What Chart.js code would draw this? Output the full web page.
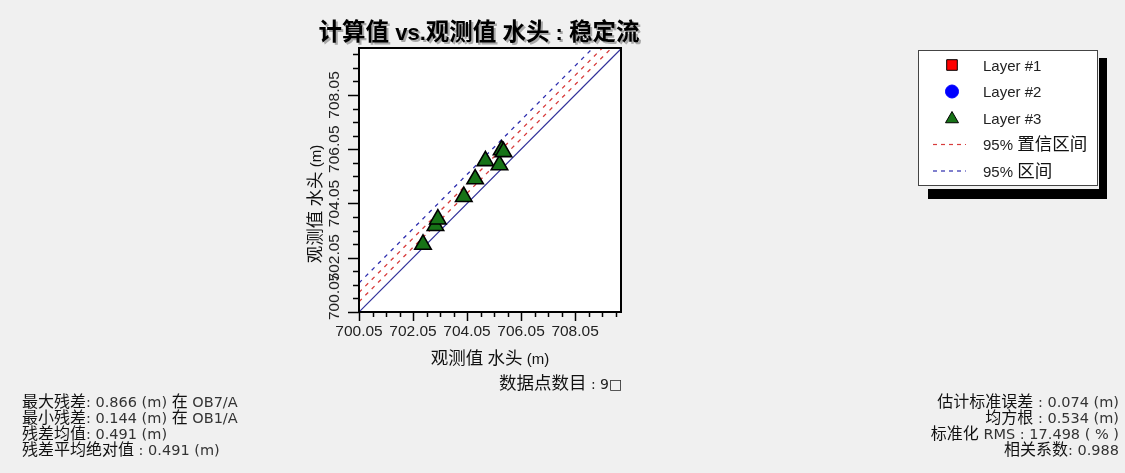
<!DOCTYPE html>
<html><head><meta charset="utf-8">
<script src="https://cdn.jsdelivr.net/npm/chart.js@4"></script>
<style>html,body{margin:0;padding:0;background:#f0f0f0;overflow:hidden}canvas{display:block}</style>
</head><body>
<canvas id="c" width="1125" height="473"></canvas>
<script>
// ---------- data ----------
const chartTitle = '计算值 vs.观测值 水头 : 稳定流';
const xAxisTitle = '观测值 水头 (m)';
const yAxisTitle = '观测值 水头 (m)';
const axisMin = 700.05;
const xAxisMax = 709.75;
const yAxisMax = 709.78;
const majorTicks = [700.05, 702.05, 704.05, 706.05, 708.05];
const minorStep = 0.5;
const layer1Observed = [];
const layer1Computed = [];
const layer2Observed = [];
const layer2Computed = [];
const layer3Observed = [702.42, 702.88, 702.97, 703.93, 704.35, 704.73, 705.25, 705.33, 705.40];
const layer3Computed = [702.54, 703.23, 703.47, 704.30, 704.95, 705.62, 705.47, 706.02, 705.95];
const identityLine = [[700.05, 700.05], [709.78, 709.78]];
const confLowerLine = [[700.05, 700.43], [709.40, 709.78]];
const confUpperLine = [[700.05, 700.77], [709.06, 709.78]];
const predUpperLine = [[700.05, 701.12], [708.71, 709.78]];
const legendLabels = ['Layer #1', 'Layer #2', 'Layer #3', '95% 置信区间', '95% 区间'];
const pointCountText = '数据点数目 : 9□';
const leftStats = ['最大残差: 0.866 (m) 在 OB7/A', '最小残差: 0.144 (m) 在 OB1/A', '残差均值: 0.491 (m)', '残差平均绝对值 : 0.491 (m)'];
const rightStats = ['估计标准误差 : 0.074 (m)', '均方根 : 0.534 (m)', '标准化 RMS : 17.498 ( % )', '相关系数: 0.988'];

// ---------- helpers ----------
const toXY = (xs, ys) => xs.map((x, i) => ({x: x, y: ys[i]}));
const pairs = arr => arr.map(p => ({x: p[0], y: p[1]}));
const CJK = /[\u2E80-\u9FFF\uFF00-\uFFEF]/;
function runs(text) {
  const out = []; let cur = '', curC = null;
  for (const ch of text) {
    const c = CJK.test(ch);
    if (curC === null || c === curC) { cur += ch; curC = c; }
    else { out.push([cur, curC]); cur = ch; curC = c; }
  }
  if (cur) out.push([cur, curC]);
  return out;
}
// y is the visual centre line; drawn on a shared alphabetic baseline
function drawMixed(ctx, text, x, y, o) {
  const rs = runs(text);
  let total = 0;
  const ws = rs.map(([t, c]) => { ctx.font = c ? o.cjk : o.lat; const w = ctx.measureText(t).width; total += w; return w; });
  let sx = o.align === 'right' ? x - total : o.align === 'center' ? x - total / 2 : x;
  const base = y + 0.37 * o.size;
  ctx.textBaseline = 'alphabetic'; ctx.textAlign = 'left';
  rs.forEach(([t, c], i) => {
    ctx.font = c ? o.cjk : o.lat;
    ctx.fillStyle = c ? (o.color || '#000') : (o.latColor || o.color || '#000');
    ctx.fillText(t, sx, base);
    sx += ws[i];
  });
  return total;
}

const RED = '#d83c3c', BLUE_D = '#2e2eae', NAVY = '#30309a', GREEN = '#177317';

const decor = {
  id: 'decor',
  beforeDraw(chart) {
    const ctx = chart.ctx, a = chart.chartArea;
    ctx.save();
    ctx.fillStyle = '#f0f0f0';
    ctx.fillRect(0, 0, chart.width, chart.height);
    ctx.fillStyle = '#ffffff';
    ctx.fillRect(a.left, a.top, a.right - a.left, a.bottom - a.top);
    ctx.restore();
  },
  afterDraw(chart) {
    const ctx = chart.ctx, a = chart.chartArea;
    const xs = chart.scales.x, ys = chart.scales.y;
    ctx.save();
    // frame
    ctx.strokeStyle = '#000'; ctx.lineWidth = 2;
    ctx.strokeRect(a.left, a.top, a.right - a.left, a.bottom - a.top);
    // ticks
    ctx.lineWidth = 1.5;
    const isMajor = v => majorTicks.some(m => Math.abs(m - v) < 1e-6);
    for (let v = axisMin; v <= xAxisMax + 1e-9; v += minorStep) {
      const vv = Math.round(v * 100) / 100;
      const px = Math.round(xs.getPixelForValue(vv)) + 0.5;
      const len = isMajor(vv) ? 9 : 5;
      ctx.beginPath(); ctx.moveTo(px, a.bottom); ctx.lineTo(px, a.bottom + len); ctx.stroke();
    }
    for (let v = axisMin; v <= yAxisMax + 1e-9; v += minorStep) {
      const vv = Math.round(v * 100) / 100;
      const py = Math.round(ys.getPixelForValue(vv)) + 0.5;
      const len = isMajor(vv) ? 11 : 6;
      ctx.beginPath(); ctx.moveTo(a.left, py); ctx.lineTo(a.left - len, py); ctx.stroke();
    }
    // x tick labels
    ctx.fillStyle = '#222'; ctx.font = "15.5px 'Liberation Sans', Arial, sans-serif";
    ctx.textAlign = 'center'; ctx.textBaseline = 'middle';
    majorTicks.forEach(v => ctx.fillText(v.toFixed(2), xs.getPixelForValue(v), 332));
    // y tick labels (rotated)
    majorTicks.forEach(v => {
      const lab = v.toFixed(2);
      const w = ctx.measureText(lab).width;
      let py = ys.getPixelForValue(v);
      py = Math.min(py, a.bottom + 8 - w / 2);
      ctx.save(); ctx.translate(335, py); ctx.rotate(-Math.PI / 2);
      ctx.fillText(lab, 0, 0); ctx.restore();
    });
    // axis titles
    const axOpt = {cjk: "17.5px 'Noto Sans CJK SC'", lat: "15px 'Liberation Sans', Arial", size: 17.5, align: 'center', color: '#111'};
    drawMixed(ctx, xAxisTitle, 490, 358, axOpt);
    ctx.save(); ctx.translate(315, 204); ctx.rotate(-Math.PI / 2);
    drawMixed(ctx, yAxisTitle, 0, 0, axOpt);
    ctx.restore();
    // title with shadow
    const tOpt = {cjk: "bold 23.5px 'Noto Sans CJK SC'", lat: "bold 22px 'Liberation Sans', Arial", size: 23.5, align: 'center'};
    drawMixed(ctx, chartTitle, 481, 33, Object.assign({}, tOpt, {color: '#a8a8a8'}));
    drawMixed(ctx, chartTitle, 479, 31, Object.assign({}, tOpt, {color: '#000'}));
    // point count
    drawMixed(ctx, pointCountText, 499, 383, {cjk: "17.5px 'Noto Sans CJK SC'", lat: "14px 'DejaVu Sans'", size: 17.5, align: 'left', color: '#111', latColor: '#222'});
    // stats
    const sOpt = {cjk: "16px 'Noto Sans CJK SC'", lat: "14.5px 'DejaVu Sans'", size: 16, color: '#111', latColor: '#333'};
    const rowsY = [401.5, 417.5, 433.5, 449.5];
    leftStats.forEach((t, i) => drawMixed(ctx, t, 22, rowsY[i], Object.assign({align: 'left'}, sOpt)));
    rightStats.forEach((t, i) => drawMixed(ctx, t, 1119, rowsY[i], Object.assign({align: 'right'}, sOpt)));
    // legend
    ctx.fillStyle = '#000';
    ctx.fillRect(928, 189, 179, 10);
    ctx.fillRect(1099, 58, 8, 141);
    ctx.fillStyle = '#fff'; ctx.fillRect(918, 50, 179, 135);
    ctx.strokeStyle = '#444'; ctx.lineWidth = 1;
    ctx.strokeRect(918.5, 50.5, 179, 135);
    const ly = [65, 91.5, 118, 144.5, 171];
    const mx = 952;
    const dsets = chart.data.datasets;
    const drawMk = (ds, y) => {
      ctx.fillStyle = ds.backgroundColor; ctx.strokeStyle = ds.borderColor;
      ctx.lineWidth = 1;
      Chart.helpers.drawPoint(ctx, {pointStyle: ds.pointStyle, radius: ds.legendRadius, borderWidth: 1, rotation: 0}, mx, y);
    };
    drawMk(dsets[0], ly[0]);
    drawMk(dsets[1], ly[1]);
    drawMk(dsets[2], ly[2] + 1);
    ctx.lineWidth = 1.2; ctx.setLineDash([4, 4]);
    ctx.strokeStyle = RED; ctx.beginPath(); ctx.moveTo(933, ly[3]); ctx.lineTo(966, ly[3]); ctx.stroke();
    ctx.strokeStyle = BLUE_D; ctx.beginPath(); ctx.moveTo(933, ly[4]); ctx.lineTo(966, ly[4]); ctx.stroke();
    ctx.setLineDash([]);
    const lOpt = {cjk: "17.5px 'Noto Sans CJK SC'", lat: "15px 'Liberation Sans', Arial", size: 15, align: 'left', color: '#111', latColor: '#222'};
    legendLabels.forEach((t, i) => drawMixed(ctx, t, 983, ly[i], lOpt));
    ctx.restore();
  }
};

new Chart(document.getElementById('c'), {
  type: 'scatter',
  data: {
    datasets: [
      {label: legendLabels[0], data: toXY(layer1Observed, layer1Computed), pointStyle: 'rect', backgroundColor: '#ff0000', borderColor: '#000', legendRadius: 7.5, pointRadius: 7.5, borderWidth: 1},
      {label: legendLabels[1], data: toXY(layer2Observed, layer2Computed), pointStyle: 'circle', backgroundColor: '#0000ff', borderColor: '#0000ff', legendRadius: 6.5, pointRadius: 6.5, borderWidth: 1},
      {label: legendLabels[2], data: toXY(layer3Observed, layer3Computed), pointStyle: 'triangle', backgroundColor: GREEN, borderColor: '#000', legendRadius: 7.5, pointRadius: 9.5, borderWidth: 1.6},
      {label: legendLabels[3], data: pairs(confLowerLine), showLine: true, borderColor: RED, borderWidth: 1.3, borderDash: [4, 5], pointRadius: 0},
      {label: legendLabels[3], data: pairs(confUpperLine), showLine: true, borderColor: RED, borderWidth: 1.3, borderDash: [4, 5], pointRadius: 0},
      {label: legendLabels[4], data: pairs(predUpperLine), showLine: true, borderColor: BLUE_D, borderWidth: 1.3, borderDash: [4, 5], pointRadius: 0},
      {label: '1:1', data: pairs(identityLine), showLine: true, borderColor: NAVY, borderWidth: 1.2, pointRadius: 0}
    ]
  },
  options: {
    responsive: false,
    animation: false,
    devicePixelRatio: 1,
    layout: {padding: {left: 359, right: 504, top: 48, bottom: 161}},
    scales: {
      x: {type: 'linear', min: axisMin, max: xAxisMax, display: false},
      y: {type: 'linear', min: axisMin, max: yAxisMax, display: false}
    },
    plugins: {legend: {display: false}, tooltip: {enabled: false}, title: {display: false}}
  },
  plugins: [decor]
});
</script>
</body></html>
